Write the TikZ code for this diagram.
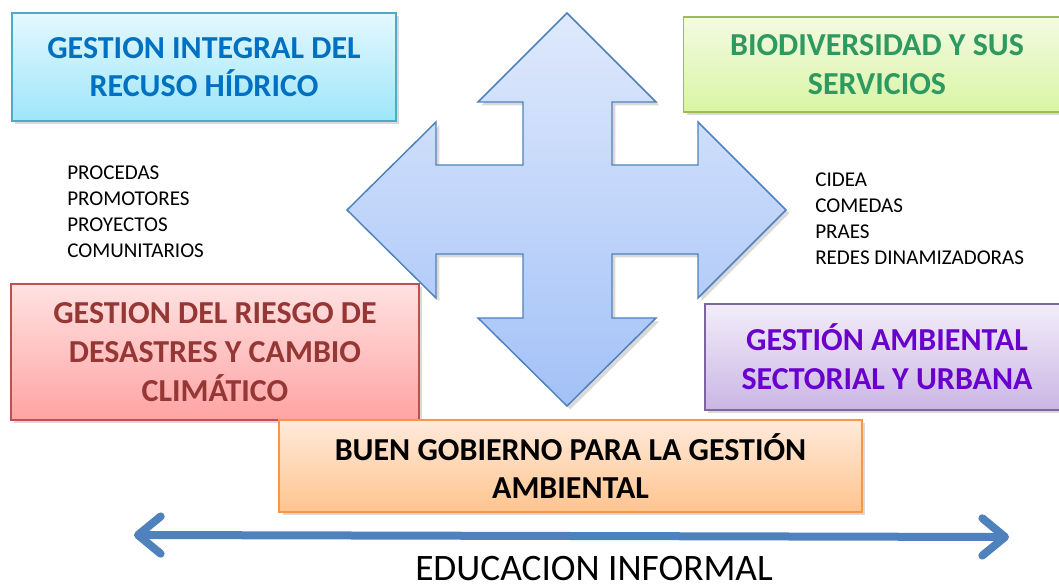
\documentclass[tikz,border=0pt]{standalone}
\usepackage{fontspec}
\setmainfont{Carlito}
\usetikzlibrary{arrows.meta,shadows,positioning}
\definecolor{azulborde}{HTML}{4F81BD}
\definecolor{azularriba}{HTML}{DFE9FC}
\definecolor{azulabajo}{HTML}{A3C1F7}
\definecolor{cianborde}{HTML}{4BACC6}
\definecolor{cianarriba}{HTML}{E4F8FE}
\definecolor{cianabajo}{HTML}{9EE6FA}
\definecolor{ciantexto}{HTML}{0070C0}
\definecolor{verdeborde}{HTML}{9BBB59}
\definecolor{verdearriba}{HTML}{F3FAE2}
\definecolor{verdeabajo}{HTML}{D9F5A4}
\definecolor{verdetexto}{HTML}{2E9960}
\definecolor{rojoborde}{HTML}{C0504D}
\definecolor{rojoarriba}{HTML}{FFE2E2}
\definecolor{rojoabajo}{HTML}{FFA3A3}
\definecolor{rojotexto}{HTML}{953735}
\definecolor{moradoborde}{HTML}{8064A2}
\definecolor{moradoarriba}{HTML}{F2EDF9}
\definecolor{moradoabajo}{HTML}{CAB6E4}
\definecolor{moradotexto}{HTML}{6A00CC}
\definecolor{naranjaborde}{HTML}{F79646}
\definecolor{naranjaarriba}{HTML}{FFEADB}
\definecolor{naranjaabajo}{HTML}{FFC48E}
\tikzset{
  tema/.style={draw, line width=1.1pt, align=center, inner sep=0pt,
    font=\bfseries\fontsize{24}{29}\selectfont,
    drop shadow={opacity=0.3, shadow xshift=2.5pt, shadow yshift=-2.5pt}},
  lista/.style={anchor=west, align=left, inner sep=0pt,
    font=\fontsize{15.8}{19.5}\selectfont},
  cruz/.style={draw=azulborde, line width=1.1pt, line join=miter,
    top color=azularriba, bottom color=azulabajo,
    drop shadow={opacity=0.3, shadow xshift=2.5pt, shadow yshift=-2.5pt}},
  flechaedu/.style={draw=azulborde, line width=6pt,
    {Straight Barb[length=17pt, width=28pt, line cap=round, line join=round]}-{Straight Barb[length=17pt, width=28pt, line cap=round, line join=round]}},
}
\begin{document}
\begin{tikzpicture}[x=0.75pt, y=-0.75pt]
  \useasboundingbox (0,0) rectangle (1059,584);
  % flecha de cuatro puntas
  \draw[cruz] (567,13) -- (656,102) -- (612,102) -- (612,165) -- (698,165)
    -- (698,122) -- (786,210) -- (698,298) -- (698,254) -- (612,254)
    -- (612,318) -- (656,318) -- (567,406) -- (478,318) -- (523,318)
    -- (523,254) -- (436,254) -- (436,298) -- (347,210) -- (436,122)
    -- (436,165) -- (523,165) -- (523,102) -- (478,102) -- cycle;

  % ejes tematicos
  \node[tema, draw=cianborde, top color=cianarriba, bottom color=cianabajo,
    text=ciantexto, minimum width=288pt, minimum height=81pt] (hidrico) at (204,67)
    {GESTION INTEGRAL DEL\\RECUSO HÍDRICO};
  \node[tema, draw=verdeborde, top color=verdearriba, bottom color=verdeabajo,
    text=verdetexto, minimum width=290pt, minimum height=71pt] (biodiv) at (877,64.5)
    {BIODIVERSIDAD Y SUS\\SERVICIOS};
  \node[tema, draw=rojoborde, top color=rojoarriba, bottom color=rojoabajo,
    text=rojotexto, minimum width=306pt, minimum height=102pt] (riesgo) at (215,352)
    {GESTION DEL RIESGO DE\\DESASTRES Y CAMBIO\\CLIMÁTICO};
  \node[tema, draw=moradoborde, top color=moradoarriba, bottom color=moradoabajo,
    text=moradotexto, minimum width=273pt, minimum height=79.5pt] (sectorial) at (887,357)
    {GESTIÓN AMBIENTAL\\SECTORIAL Y URBANA};
  \node[tema, draw=naranjaborde, top color=naranjaarriba, bottom color=naranjaabajo,
    text=black, minimum width=437pt, minimum height=69pt] (gobierno) at (570.5,466)
    {BUEN GOBIERNO PARA LA GESTIÓN\\AMBIENTAL};

  % listas
  \node[lista] (estrategias) at (67,212) {PROCEDAS\\PROMOTORES\\PROYECTOS\\COMUNITARIOS};
  \node[lista] (instancias) at (815,219) {CIDEA\\COMEDAS\\PRAES\\REDES DINAMIZADORAS};

  % educacion informal
  \coordinate (eduizq) at (134,535);
  \coordinate (eduder) at (1009,537);
  \draw[flechaedu] (eduizq) -- (eduder);
  \node[anchor=base, inner sep=0pt, font=\fontsize{28}{34}\selectfont] (informal) at (594,580)
    {EDUCACION INFORMAL};
\end{tikzpicture}
\end{document}
